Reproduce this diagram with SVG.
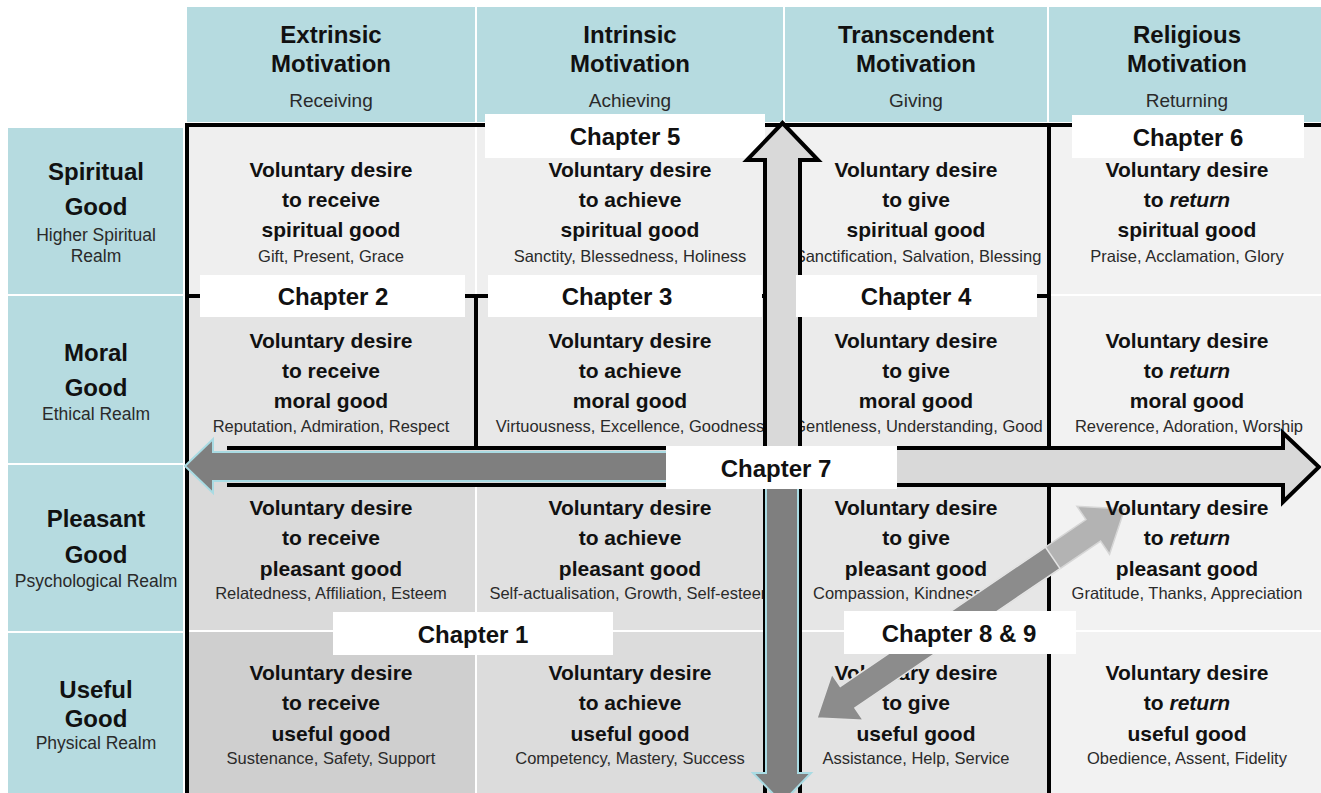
<svg xmlns="http://www.w3.org/2000/svg" width="1321" height="793" viewBox="0 0 1321 793">
<style>
.hd{fill:#b6dbe0}
text{font-family:"Liberation Sans",Arial,Helvetica,sans-serif;text-anchor:middle;fill:#111}
.h1{font-size:24px;font-weight:bold}
.h2{font-size:19px;fill:#2a2a2a}
.rl{font-size:24px;font-weight:bold}
.rs{font-size:17.5px;fill:#2a2a2a}
.cb{font-size:21px;font-weight:bold}
.cs{font-size:16.5px;fill:#2a2a2a}
.ch{font-size:24px;font-weight:bold}
.it{font-style:italic}
.box{fill:#fff}
.ln{stroke:#000;stroke-width:4;fill:none}
.outf{fill:#d9d9d9;stroke:none}
.outl{fill:none;stroke:#000;stroke-width:4;stroke-linejoin:miter}
.dk{fill:#7f7f7f;stroke:#a9dbe3;stroke-width:2}
</style>
<rect width="1321" height="793" fill="#fff"/>
<!-- header -->
<g id="hdr-extrinsic"><rect class="hd" x="187" y="7" width="288" height="115"/><text class="h1" x="331" y="43">Extrinsic</text><text class="h1" x="331" y="72">Motivation</text><text class="h2" x="331" y="107">Receiving</text></g>
<g id="hdr-intrinsic"><rect class="hd" x="477" y="7" width="306" height="115"/><text class="h1" x="630" y="43">Intrinsic</text><text class="h1" x="630" y="72">Motivation</text><text class="h2" x="630" y="107">Achieving</text></g>
<g id="hdr-transcendent"><rect class="hd" x="785" y="7" width="262" height="115"/><text class="h1" x="916" y="43">Transcendent</text><text class="h1" x="916" y="72">Motivation</text><text class="h2" x="916" y="107">Giving</text></g>
<g id="hdr-religious"><rect class="hd" x="1049" y="7" width="272" height="115"/><text class="h1" x="1187" y="43">Religious</text><text class="h1" x="1187" y="72">Motivation</text><text class="h2" x="1187" y="107">Returning</text></g>
<!-- row labels -->
<g id="row-spiritual"><rect class="hd" x="8" y="128" width="175" height="166"/><text class="rl" x="96" y="180">Spiritual</text><text class="rl" x="96" y="215">Good</text><text class="rs" x="96" y="241">Higher Spiritual</text><text class="rs" x="96" y="262">Realm</text></g>
<g id="row-moral"><rect class="hd" x="8" y="296" width="175" height="167"/><text class="rl" x="96" y="361">Moral</text><text class="rl" x="96" y="396">Good</text><text class="rs" x="96" y="420">Ethical Realm</text></g>
<g id="row-pleasant"><rect class="hd" x="8" y="465" width="175" height="166"/><text class="rl" x="96" y="527">Pleasant</text><text class="rl" x="96" y="563">Good</text><text class="rs" x="96" y="587">Psychological Realm</text></g>
<g id="row-useful"><rect class="hd" x="8" y="633" width="175" height="160"/><text class="rl" x="96" y="698">Useful</text><text class="rl" x="96" y="727">Good</text><text class="rs" x="96" y="749">Physical Realm</text></g>
<!-- cells row 1 -->
<g id="c11"><rect x="189" y="127" width="286" height="167" fill="#efefef"/><text class="cb" x="331" y="177">Voluntary desire</text><text class="cb" x="331" y="207">to receive</text><text class="cb" x="331" y="237">spiritual good</text><text class="cs" x="331" y="262">Gift, Present, Grace</text></g>
<g id="c12"><rect x="477" y="127" width="306" height="167" fill="#efefef"/><text class="cb" x="630" y="177">Voluntary desire</text><text class="cb" x="630" y="207">to achieve</text><text class="cb" x="630" y="237">spiritual good</text><text class="cs" x="630" y="262">Sanctity, Blessedness, Holiness</text></g>
<g id="c13"><rect x="785" y="127" width="262" height="167" fill="#f1f1f1"/><text class="cb" x="916" y="177">Voluntary desire</text><text class="cb" x="916" y="207">to give</text><text class="cb" x="916" y="237">spiritual good</text><text class="cs" x="918" y="262">Sanctification, Salvation, Blessing</text></g>
<g id="c14"><rect x="1049" y="127" width="272" height="167" fill="#f2f2f2"/><text class="cb" x="1187" y="177">Voluntary desire</text><text class="cb" x="1187" y="207">to <tspan class="it">return</tspan></text><text class="cb" x="1187" y="237">spiritual good</text><text class="cs" x="1187" y="262">Praise, Acclamation, Glory</text></g>
<!-- row 2 -->
<g id="c21"><rect x="189" y="296" width="286" height="167" fill="#e4e4e4"/><text class="cb" x="331" y="348">Voluntary desire</text><text class="cb" x="331" y="378">to receive</text><text class="cb" x="331" y="408">moral good</text><text class="cs" x="331" y="432">Reputation, Admiration, Respect</text></g>
<g id="c22"><rect x="477" y="296" width="306" height="167" fill="#e8e8e8"/><text class="cb" x="630" y="348">Voluntary desire</text><text class="cb" x="630" y="378">to achieve</text><text class="cb" x="630" y="408">moral good</text><text class="cs" x="630" y="432">Virtuousness, Excellence, Goodness</text></g>
<g id="c23"><rect x="785" y="296" width="262" height="167" fill="#ebebeb"/><text class="cb" x="916" y="348">Voluntary desire</text><text class="cb" x="916" y="378">to give</text><text class="cb" x="916" y="408">moral good</text><text class="cs" x="918" y="432">Gentleness, Understanding, Good</text></g>
<g id="c24"><rect x="1049" y="296" width="272" height="167" fill="#f2f2f2"/><text class="cb" x="1187" y="348">Voluntary desire</text><text class="cb" x="1187" y="378">to <tspan class="it">return</tspan></text><text class="cb" x="1187" y="408">moral good</text><text class="cs" x="1189" y="432">Reverence, Adoration, Worship</text></g>
<!-- row 3 -->
<g id="c31"><rect x="189" y="465" width="286" height="165" fill="#dadada"/><text class="cb" x="331" y="515">Voluntary desire</text><text class="cb" x="331" y="545">to receive</text><text class="cb" x="331" y="576">pleasant good</text><text class="cs" x="331" y="599">Relatedness, Affiliation, Esteem</text></g>
<g id="c32"><rect x="477" y="465" width="306" height="165" fill="#e0e0e0"/><text class="cb" x="630" y="515">Voluntary desire</text><text class="cb" x="630" y="545">to achieve</text><text class="cb" x="630" y="576">pleasant good</text><text class="cs" x="632" y="599">Self-actualisation, Growth, Self-esteem</text></g>
<g id="c33"><rect x="785" y="465" width="262" height="165" fill="#e6e6e6"/><text class="cb" x="916" y="515">Voluntary desire</text><text class="cb" x="916" y="545">to give</text><text class="cb" x="916" y="576">pleasant good</text><text class="cs" x="813" y="599" style="text-anchor:start">Compassion, Kindness</text></g>
<g id="c34"><rect x="1049" y="465" width="272" height="165" fill="#f2f2f2"/><text class="cb" x="1187" y="545">to <tspan class="it">return</tspan></text><text class="cb" x="1187" y="576">pleasant good</text><text class="cs" x="1187" y="599">Gratitude, Thanks, Appreciation</text></g>
<!-- row 4 -->
<g id="c41"><rect x="189" y="632" width="286" height="161" fill="#cfcfcf"/><text class="cb" x="331" y="680">Voluntary desire</text><text class="cb" x="331" y="710">to receive</text><text class="cb" x="331" y="741">useful good</text><text class="cs" x="331" y="764">Sustenance, Safety, Support</text></g>
<g id="c42"><rect x="477" y="632" width="306" height="161" fill="#dcdcdc"/><text class="cb" x="630" y="680">Voluntary desire</text><text class="cb" x="630" y="710">to achieve</text><text class="cb" x="630" y="741">useful good</text><text class="cs" x="630" y="764">Competency, Mastery, Success</text></g>
<g id="c43"><rect x="785" y="632" width="262" height="161" fill="#e3e3e3"/><text class="cb" x="916" y="680">Voluntary desire</text><text class="cb" x="916" y="710">to give</text><text class="cb" x="916" y="741">useful good</text><text class="cs" x="916" y="764">Assistance, Help, Service</text></g>
<g id="c44"><rect x="1049" y="632" width="272" height="161" fill="#f2f2f2"/><text class="cb" x="1187" y="680">Voluntary desire</text><text class="cb" x="1187" y="710">to <tspan class="it">return</tspan></text><text class="cb" x="1187" y="741">useful good</text><text class="cs" x="1187" y="764">Obedience, Assent, Fidelity</text></g>
<!-- grid lines -->
<g id="grid">
<line class="ln" x1="187" y1="123" x2="187" y2="793"/>
<line class="ln" x1="185" y1="125" x2="1321" y2="125"/>
<line class="ln" x1="185" y1="296" x2="1051" y2="296"/>
<line class="ln" x1="476" y1="296" x2="476" y2="448"/>
<line class="ln" x1="1049" y1="125" x2="1049" y2="448"/>
<line class="ln" x1="1049" y1="485" x2="1049" y2="793"/>
</g>
<g id="ch5"><rect class="box" x="485" y="114" width="280" height="44"/><text class="ch" x="625" y="145">Chapter 5</text></g>
<!-- connectors -->
<g id="connectors">
<polygon class="outf" points="765,800 765,160 747,160 782.5,123 818,160 800,160 800,800"/>
<polyline class="outl" points="765,800 765,160 747,160 782.5,123 818,160 800,160 800,800"/>
<polygon class="outf" points="227,448 1283,448 1283,433 1319,467 1283,502 1283,485 227,485"/>
<polyline class="outl" points="227,448 1283,448 1283,433 1319,467 1283,502 1283,485 227,485"/>
<polygon class="dk" points="185,466 213,439 213,452 783,452 783,481 213,481 213,493"/>
<polygon class="dk" points="766,466 798,466 798,773 811,773 782,803 753,773 766,773"/>
<g transform="translate(817,718) rotate(-34.2)">
<polygon points="60,-13 334,-13 334,-29 372,0 334,29 334,13 60,13" fill="#b3b3b3" stroke="#d6d6d6" stroke-width="1.5"/>
<polygon points="285,-13 37,-13 37,-28 0,0 37,28 37,13 285,13" fill="#8c8c8c" stroke="#e4e4e4" stroke-width="1.5"/>
</g>
</g>
<g id="c34-title"><text class="cb" x="1187" y="515">Voluntary desire</text></g>
<!-- chapter labels -->
<g id="ch6"><rect class="box" x="1072" y="115" width="232" height="43"/><text class="ch" x="1188" y="146">Chapter 6</text></g>
<g id="ch2"><rect class="box" x="200" y="275" width="265" height="42"/><text class="ch" x="333" y="305">Chapter 2</text></g>
<g id="ch3"><rect class="box" x="488" y="275" width="274" height="42"/><text class="ch" x="617" y="305">Chapter 3</text></g>
<g id="ch4"><rect class="box" x="796" y="275" width="241" height="42"/><text class="ch" x="916" y="305">Chapter 4</text></g>
<g id="ch7"><rect class="box" x="666" y="446" width="231" height="43"/><text class="ch" x="776" y="477">Chapter 7</text></g>
<g id="ch1"><rect class="box" x="333" y="612" width="280" height="43"/><text class="ch" x="473" y="643">Chapter 1</text></g>
<g id="ch89"><rect class="box" x="844" y="611" width="232" height="43"/><text class="ch" x="959" y="642">Chapter 8 &amp; 9</text></g>
</svg>
